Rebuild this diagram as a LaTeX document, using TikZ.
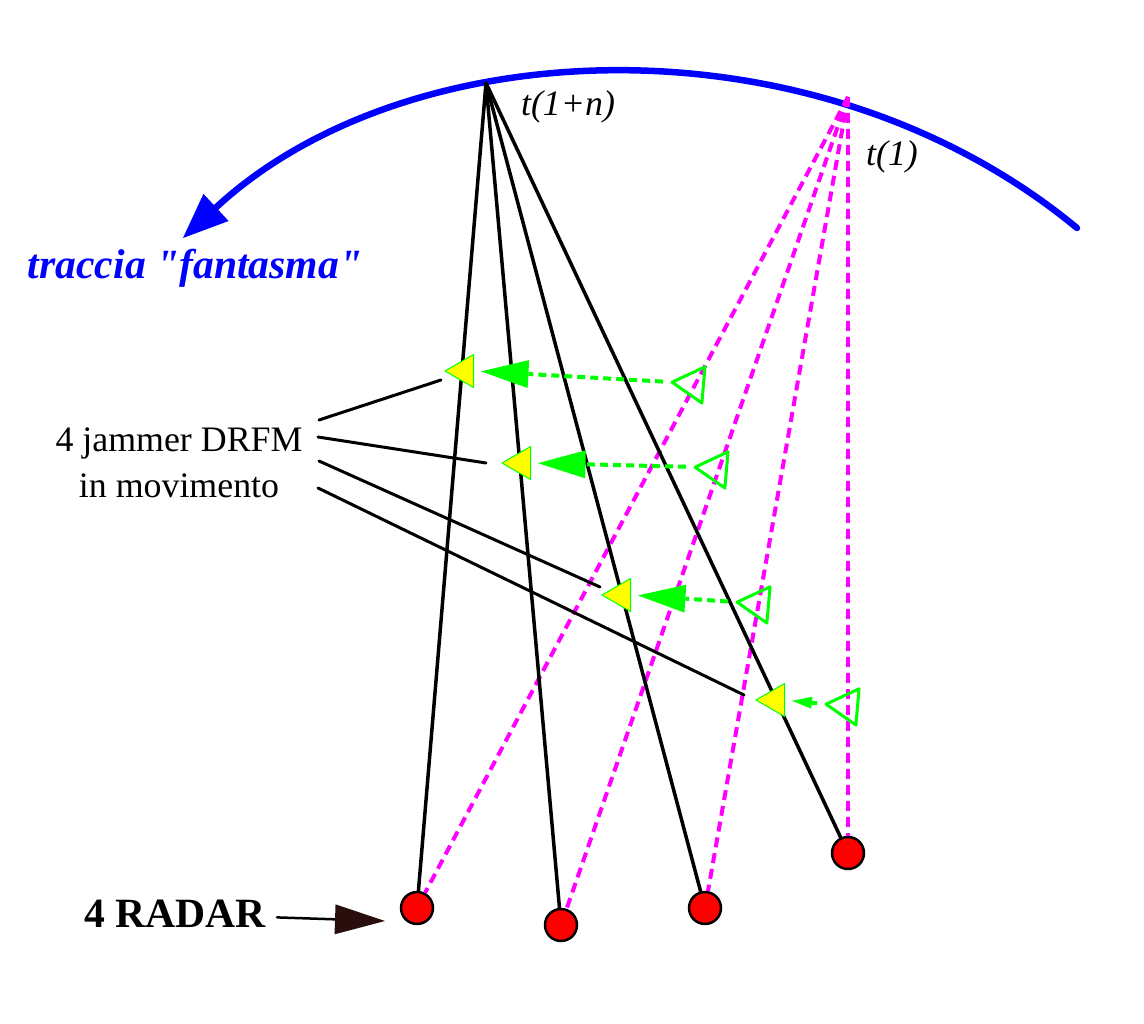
\documentclass[tikz,border=0pt]{standalone}
\usepackage{fontspec}
\setmainfont{Liberation Serif}
\newfontfamily\plainserif{Liberation Serif}
\usetikzlibrary{arrows.meta,shapes.geometric}

\begin{document}
\begin{tikzpicture}[x=0.02cm, y=-0.02cm, line cap=round, line join=round,
  radar/.style={circle, fill=radarred, draw=black, line width=0.05cm, minimum size=0.64cm, inner sep=0pt},
  jammer/.style={regular polygon, regular polygon sides=3, shape border rotate=90, fill=jamyellow, draw=jamgreen, line width=0.02cm, minimum size=0.76cm, inner sep=0pt},
  ghost/.style={regular polygon, regular polygon sides=3, shape border rotate=85, draw=jamgreen, line width=0.06cm, minimum size=0.84cm, inner sep=0pt},
  ray/.style={line width=0.07cm},
  echo/.style={echomag, line width=0.08cm, line cap=butt, dash pattern=on 0.2cm off 0.12cm},
  fake/.style={jamgreen, line width=0.08cm, line cap=butt, dash pattern=on 0.16cm off 0.1cm, shorten <=0.12cm, shorten >=0.14cm},
  txt/.style={font=\fontsize{20.4}{26}\selectfont},
  big/.style={font=\fontsize{23.7}{28}\selectfont\bfseries}]
  \definecolor{arrowdark}{RGB}{42,14,14}
  \definecolor{trackblue}{RGB}{0,0,255}
  \definecolor{echomag}{RGB}{255,0,255}
  \definecolor{jamgreen}{RGB}{0,255,0}
  \definecolor{jamyellow}{RGB}{255,255,0}
  \definecolor{radarred}{RGB}{255,0,0}
  \useasboundingbox (0,0) rectangle (1144,1024);
  \draw[trackblue, line width=0.13cm, -{Triangle[length=0.9cm, width=0.74cm, line width=0pt]}]
    (1077,228) .. controls (817,13) and (409,29) .. (183,238);
  \coordinate (tn) at (486,83);
  \coordinate (t1) at (848,97);
  \foreach \n/\x/\y in {1/417/908, 2/561/925, 3/705/908, 4/848/853}
    \node[radar] (r\n) at (\x,\y) {};
  \foreach \n in {1,...,4}{
    \draw[echo] (t1) -- (r\n);
    \draw[ray] (tn) -- (r\n);
  }
  \node[txt, align=center] (lbl) at (179,463) {4 jammer DRFM\\in movimento};
  \foreach \n/\xa/\ya/\xb/\yb in {1/319/420/441/380, 2/318/437/486/463, 3/319/461/600/587, 4/318/488/744/695}{
    \coordinate (s\n) at (\xa,\ya);
    \coordinate (e\n) at (\xb,\yb);
    \draw[line width=0.06cm] (s\n) -- (e\n);
  }
  \foreach \n/\jx/\jy/\gx/\gy in {1/464/371/693/384, 2/521/463/716/469, 3/621/595/758/604, 4/775/700/847/706}{
    \node[jammer] (j\n) at (\jx,\jy) {};
    \node[ghost] (g\n) at (\gx,\gy) {};
  }
  \foreach \n in {1,2,3}
    \draw[fake, -{Triangle[length=0.95cm, width=0.56cm, line width=0pt]}] (g\n.corner 1) -- (j\n.east);
  \draw[fake, -{Triangle[length=0.4cm, width=0.24cm, line width=0pt]}] (g4.corner 1) -- (j4.east);
  \node[big, trackblue] (trace) at (195,268) {\plainserif\bfseries\itshape traccia "fantasma"};
  \node[txt] (tnlbl) at (568,107) {\itshape t(1+n)};
  \node[txt] (t1lbl) at (892,157) {\itshape t(1)};
  \node[big] (rlbl) at (175,914) {4 RADAR};
  \coordinate (rtip) at (385,921);
  \draw[line width=0.05cm, shorten <=0.1cm, -{Triangle[length=1cm, width=0.6cm, line width=0pt, color=arrowdark]}] (rlbl) -- (rtip);
\end{tikzpicture}
\end{document}
